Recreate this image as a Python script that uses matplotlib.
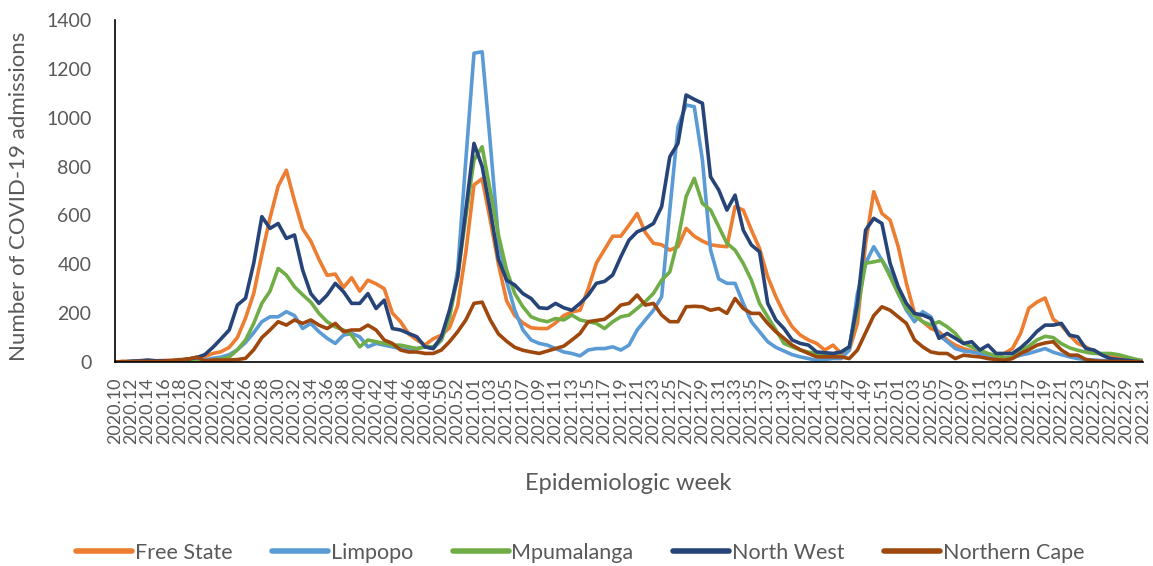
import numpy as np
import matplotlib
matplotlib.use("Agg")
import matplotlib.pyplot as plt

plt.rcParams["font.family"] = ["Lato", "DejaVu Sans"]

# epidemiologic weeks 2020.10 .. 2022.31 (2020 has 53 weeks)
weeks = ([f"2020.{w:02d}" for w in range(10, 54)]
         + [f"2021.{w:02d}" for w in range(1, 53)]
         + [f"2022.{w:02d}" for w in range(1, 32)])

free_state = [
    0, 2, 3, 5, 5, 5, 6, 8, 10, 12,
    18, 22, 35, 42, 60, 100, 180, 280, 440, 590,
    720, 785, 660, 545, 495, 420, 355, 360, 305, 345,
    290, 335, 320, 300, 200, 165, 115, 90, 70, 95,
    110, 140, 230, 450, 725, 750, 580, 400, 250, 190,
    160, 140, 137, 137, 160, 190, 205, 212, 300, 405,
    460, 515, 515, 560, 608, 530, 486, 480, 458, 472,
    547, 515, 495, 480, 475, 472, 636, 622, 540, 465,
    349, 267, 199, 144, 110, 90, 76, 49, 69, 35,
    49, 158, 486, 697, 608, 581, 472, 322, 199, 165,
    137, 124, 90, 69, 55, 45, 41, 21, 28, 35,
    55, 117, 220, 245, 262, 175, 150, 110, 76, 62,
    40, 30, 25, 20, 15, 10, 5,
]

limpopo = [
    0, 0, 2, 3, 3, 3, 3, 3, 3, 5,
    5, 8, 15, 20, 30, 50, 80, 120, 165, 185,
    185, 206, 190, 137, 158, 124, 97, 76, 110, 117,
    103, 62, 76, 69, 62, 55, 49, 55, 62, 55,
    90, 185, 376, 827, 1264, 1270, 895, 500, 330, 212,
    131, 90, 76, 69, 55, 41, 35, 25, 49, 55,
    55, 62, 49, 69, 131, 172, 212, 267, 622, 963,
    1052, 1045, 827, 458, 340, 322, 322, 240, 165, 124,
    83, 60, 45, 30, 21, 14, 7, 10, 14, 14,
    49, 281, 404, 472, 417, 363, 281, 212, 165, 206,
    185, 110, 83, 55, 45, 41, 35, 28, 21, 14,
    18, 28, 35, 45, 55, 40, 30, 21, 14, 10,
    8, 6, 5, 4, 3, 2, 0,
]

mpumalanga = [
    0, 0, 0, 2, 2, 3, 3, 3, 3, 5,
    2, 0, 8, 12, 20, 50, 90, 158, 240, 290,
    383, 356, 308, 275, 245, 199, 165, 144, 131, 110,
    62, 90, 83, 76, 69, 69, 62, 55, 62, 62,
    90, 185, 349, 595, 827, 881, 700, 520, 376, 280,
    226, 185, 172, 165, 178, 172, 192, 172, 165, 158,
    137, 165, 185, 192, 219, 247, 281, 335, 369, 500,
    677, 752, 649, 622, 554, 486, 458, 404, 335, 240,
    185, 131, 76, 62, 49, 40, 35, 28, 28, 41,
    62, 212, 404, 410, 417, 350, 280, 220, 190, 165,
    151, 165, 144, 117, 76, 62, 49, 35, 25, 18,
    20, 45, 65, 90, 105, 100, 75, 58, 48, 40,
    35, 35, 35, 30, 21, 12, 5,
]

north_west = [
    0, 0, 3, 5, 8, 5, 5, 5, 8, 12,
    18, 30, 60, 95, 131, 233, 261, 404, 595, 547,
    567, 506, 520, 376, 280, 240, 274, 322, 288, 240,
    240, 280, 219, 253, 137, 131, 117, 103, 62, 55,
    103, 212, 349, 622, 895, 800, 620, 420, 335, 315,
    280, 260, 222, 219, 240, 222, 212, 240, 274, 322,
    330, 356, 431, 499, 533, 547, 567, 636, 840, 895,
    1093, 1075, 1059, 758, 704, 622, 683, 540, 479, 451,
    240, 172, 137, 90, 76, 69, 41, 38, 35, 41,
    62, 240, 540, 588, 567, 404, 308, 240, 199, 192,
    178, 97, 117, 97, 76, 83, 49, 69, 35, 35,
    35, 58, 88, 125, 151, 151, 158, 110, 103, 55,
    49, 28, 14, 10, 7, 3, 0,
]

northern_cape = [
    0, 2, 0, 3, 2, 2, 3, 5, 8, 12,
    20, 5, 8, 8, 8, 10, 15, 50, 100, 131,
    165, 151, 172, 158, 172, 151, 137, 158, 124, 131,
    131, 151, 131, 90, 76, 49, 41, 41, 35, 35,
    49, 83, 124, 172, 240, 245, 172, 115, 85, 60,
    48, 41, 35, 45, 55, 65, 90, 117, 165, 170,
    175, 200, 233, 240, 274, 233, 240, 192, 165, 165,
    226, 228, 226, 212, 219, 199, 260, 219, 199, 199,
    158, 124, 97, 69, 50, 35, 21, 21, 21, 21,
    14, 49, 120, 190, 226, 212, 185, 158, 90, 62,
    41, 35, 35, 14, 28, 24, 21, 14, 10, 7,
    14, 35, 50, 69, 78, 83, 49, 28, 28, 10,
    5, 3, 2, 2, 1, 1, 0,
]

provinces = ["Free State", "Limpopo", "Mpumalanga", "North West", "Northern Cape"]
colors = ["#ED7D31", "#5B9BD5", "#70AD47", "#264478", "#9E480E"]
series = [free_state, limpopo, mpumalanga, north_west, northern_cape]

fig = plt.figure(figsize=(11.53, 5.66), dpi=100)
ax = fig.add_axes([115 / 1153, 1 - 362 / 566, 1028 / 1153, 342 / 566])

x = np.arange(len(weeks))
for name, col, vals in zip(provinces, colors, series):
    ax.plot(x, vals, color=col, lw=2.6, label=name,
            solid_joinstyle="round", solid_capstyle="round")

ax.set_xlim(0, len(weeks) - 1)
ax.set_ylim(0, 1400)
ax.set_yticks(range(0, 1401, 200))
ax.set_xticks(x[::2])
ax.set_xticklabels(weeks[::2], rotation=90, fontsize=13, color="#595959")
ax.tick_params(axis="y", length=0, pad=17, labelsize=14, labelcolor="#595959")
ax.tick_params(axis="x", length=0, pad=11)

for side in ["top", "right"]:
    ax.spines[side].set_visible(False)
for side in ["left", "bottom"]:
    ax.spines[side].set_color("black")
    ax.spines[side].set_linewidth(1.2)

fig.text(628 / 1153, 1 - 484 / 566, "Epidemiologic week", ha="center", va="center",
         fontsize=17, color="#595959")
fig.text(19 / 1153, 1 - 196 / 566, "Number of COVID-19 admissions", ha="center", va="center",
         rotation=90, fontsize=16, color="#595959")

leg = fig.legend(loc="center", bbox_to_anchor=(580 / 1153, 1 - 553 / 566), ncol=5,
                 frameon=False, fontsize=15.5, handlelength=2.6, handletextpad=0.12,
                 columnspacing=1.85)
for t in leg.get_texts():
    t.set_color("#595959")
for h in leg.get_lines():
    h.set_linewidth(4)

fig.savefig("out.png", dpi=100)
plt.close(fig)
